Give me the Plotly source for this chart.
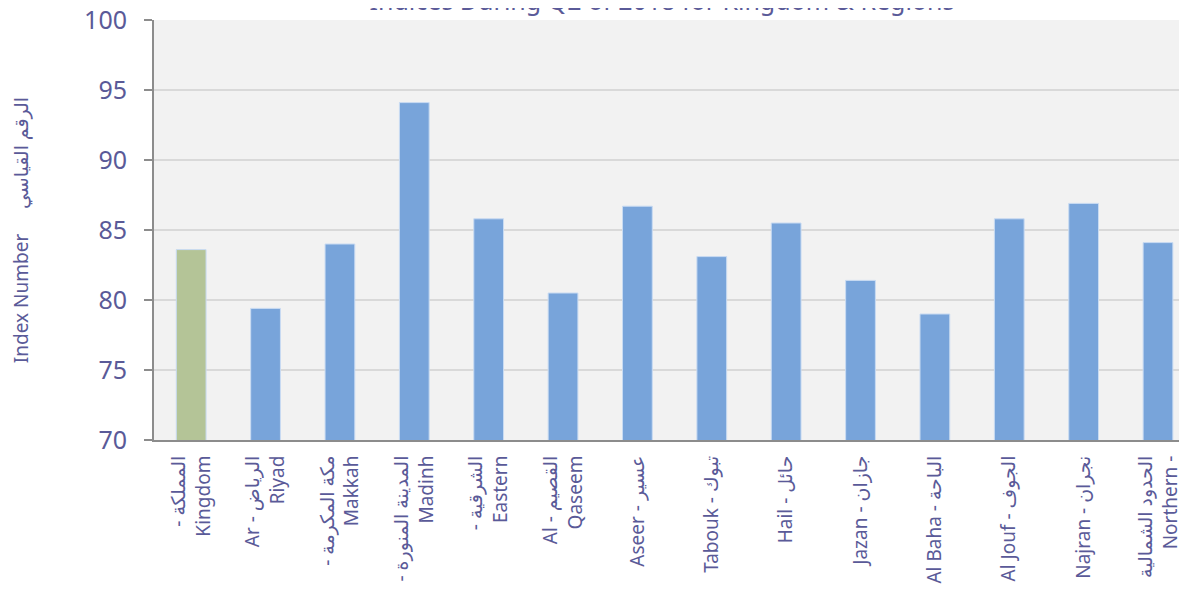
import plotly.graph_objects as go

title_text = "Indices During Q2 of 2018 for Kingdom & Regions"
y_title = "Index Number     الرقم القياسي"

categories = [
    "- المملكة<br>Kingdom",
    "Ar - الرياض<br>Riyad",
    "- مكة المكرمة<br>Makkah",
    "- المدينة المنورة<br>Madinh",
    "- الشرقية<br>Eastern",
    "Al - القصيم<br>Qaseem",
    "Aseer - عسير",
    "Tabouk - تبوك",
    "Hail - حائل",
    "Jazan - جازان",
    "Al Baha - الباحة",
    "Al Jouf - الجوف",
    "Najran - نجران",
    "الحدود الشمالية<br>Northern -",
]
values = [83.6, 79.4, 84.0, 94.1, 85.8, 80.5, 86.7, 83.1, 85.5, 81.4, 79.0, 85.8, 86.9, 84.1]
bar_colors = ["#b4c497"] + ["#78a4da"] * 13

y_ticks = [70, 75, 80, 85, 90, 95, 100]

text_color = "#5a5a98"
font_family = "Noto Sans, DejaVu Sans, sans-serif"

fig = go.Figure()
fig.add_trace(go.Bar(
    x=categories,
    y=values,
    marker=dict(color=bar_colors, line=dict(color="#c9dbf2", width=1)),
    width=0.4,
    hoverinfo="x+y",
))

fig.update_layout(
    width=1179,
    height=582,
    margin=dict(l=146, r=0, t=12, b=150, autoexpand=False),
    paper_bgcolor="white",
    plot_bgcolor="#f2f2f2",
    showlegend=False,
    font=dict(family=font_family, color=text_color),
    title=dict(
        text=title_text,
        font=dict(size=25, color=text_color, family=font_family),
        x=654 / 1179, xref="container", xanchor="center",
        y=1 - 2 / 582, yref="container", yanchor="bottom",
    ),
    xaxis=dict(
        type="category",
        range=[-0.5, 13.39],
        tickangle=-90,
        tickfont=dict(size=19, color=text_color),
        showline=True, linecolor="#8c8c8c", linewidth=2,
        showgrid=False,
        ticks="",
        ticklabelstandoff=6,
        ticklabeloverflow="allow",
        automargin=False,
    ),
    yaxis=dict(
        range=[70, 100],
        tickvals=y_ticks,
        tickfont=dict(size=25, color=text_color),
        showline=True, linecolor="#8c8c8c", linewidth=2,
        ticks="outside", ticklen=8, tickwidth=2, tickcolor="#8c8c8c",
        ticklabelstandoff=12,
        ticklabeloverflow="allow",
        showgrid=True, gridcolor="#d9d9d9", gridwidth=2,
        zeroline=False,
        automargin=False,
        title=dict(text=y_title, font=dict(size=19, color=text_color), standoff=50),
    ),
)

fig.write_html("out.html")
